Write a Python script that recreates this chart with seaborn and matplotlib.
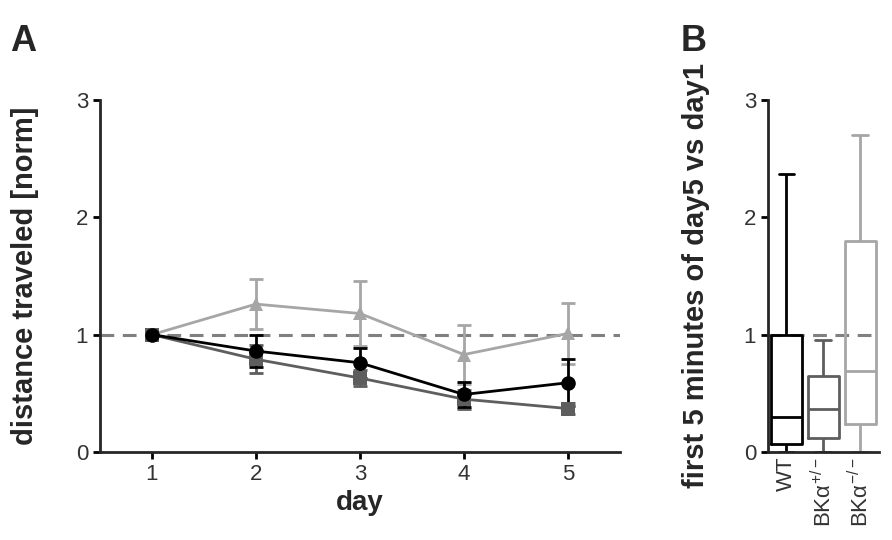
import matplotlib
matplotlib.use("Agg")
import matplotlib.pyplot as plt
import seaborn as sns
import pandas as pd

# panel A: normalised distance per day (mean +/- SEM)
days = [1, 2, 3, 4, 5]
wt_mean = [1.0, 0.86, 0.76, 0.49, 0.59]
wt_sem = [0.0, 0.14, 0.13, 0.11, 0.20]
het_mean = [1.0, 0.79, 0.63, 0.45, 0.37]
het_sem = [0.0, 0.12, 0.07, 0.08, 0.05]
ko_mean = [1.0, 1.26, 1.18, 0.83, 1.01]
ko_sem = [0.0, 0.21, 0.28, 0.25, 0.26]

# panel B: box stats (min, q1, median, q3, max)
b_groups = ['WT', 'BK$\\alpha^{+/-}$', 'BK$\\alpha^{-/-}$']
wt_box = [0.0, 0.065, 0.30, 1.0, 2.37]
het_box = [0.0, 0.12, 0.37, 0.65, 0.95]
ko_box = [0.0, 0.235, 0.69, 1.80, 2.70]

colors = ['#000000', '#5e5e5e', '#a6a6a6']

sns.set_style("ticks")
plt.rcParams['font.family'] = ['Liberation Sans', 'DejaVu Sans']
plt.rcParams['mathtext.fontset'] = 'custom'
plt.rcParams['mathtext.rm'] = 'Liberation Sans'
plt.rcParams['mathtext.it'] = 'Liberation Sans'

dfA = pd.DataFrame({
    'day': days * 3,
    'mean': wt_mean + het_mean + ko_mean,
    'sem': wt_sem + het_sem + ko_sem,
    'group': ['WT'] * 5 + ['het'] * 5 + ['ko'] * 5,
})
dfB = pd.DataFrame({
    'group': [b_groups[0]] * 5 + [b_groups[1]] * 5 + [b_groups[2]] * 5,
    'value': wt_box + het_box + ko_box,
})

fig = plt.figure(figsize=(8.92, 5.4), dpi=100)
axA = fig.add_axes([0.112, 0.163, 0.583, 0.652])
axB = fig.add_axes([0.861, 0.163, 0.124, 0.652])

dash = (0, (4.5, 2.8))

# --- panel A
axA.axhline(1, color='#808080', lw=2.2, ls=dash, zorder=1)
order = ['ko', 'het', 'WT']
pal = {'WT': colors[0], 'het': colors[1], 'ko': colors[2]}
marks = {'WT': 'o', 'het': 's', 'ko': '^'}
for i, g in enumerate(order):
    sub = dfA[dfA.group == g]
    axA.errorbar(sub['day'], sub['mean'], yerr=sub['sem'], fmt='none',
                 ecolor=pal[g], elinewidth=2, capsize=5, capthick=2, zorder=2 + i)
sns.lineplot(data=dfA, x='day', y='mean', hue='group', style='group',
             hue_order=order, style_order=order, palette=pal, markers=marks,
             dashes=False, markersize=10.5, markeredgewidth=0, linewidth=2,
             legend=False, ax=axA, zorder=5)
axA.set_xlim(0.5, 5.5)
axA.set_ylim(0, 3)
axA.set_xticks(days)
axA.set_yticks([0, 1, 2, 3])
axA.set_xlabel('day', fontsize=20, fontweight='bold', labelpad=4)
axA.set_ylabel('distance traveled [norm]', fontsize=21, fontweight='bold', labelpad=26)
sns.despine(ax=axA)

# --- panel B
axB.axhline(1, color='#808080', lw=2.2, ls=dash, zorder=0)
sns.boxplot(data=dfB, x='group', y='value', hue='group', palette=colors,
            whis=(0, 100), fill=False, width=0.85, linewidth=2, legend=False,
            ax=axB)
axB.set_xlim(-0.5, 2.5)
axB.set_ylim(0, 3)
axB.set_yticks([0, 1, 2, 3])
axB.set_xlabel('')
axB.set_ylabel('first 5 minutes of day5 vs day1', fontsize=21, fontweight='bold', labelpad=24)
sns.despine(ax=axB)

for ax in (axA, axB):
    for s in ('left', 'bottom'):
        ax.spines[s].set_linewidth(2)
    ax.tick_params(labelsize=16, width=2, length=5, colors='#000000')
    for lab in ax.get_xticklabels() + ax.get_yticklabels():
        lab.set_color('#333333')
axB.tick_params(axis='x', rotation=90, length=0, labelsize=16)

fig.text(0.011, 0.905, 'A', fontsize=26, fontweight='bold')
fig.text(0.763, 0.905, 'B', fontsize=26, fontweight='bold')

fig.savefig('out.png', dpi=100)
